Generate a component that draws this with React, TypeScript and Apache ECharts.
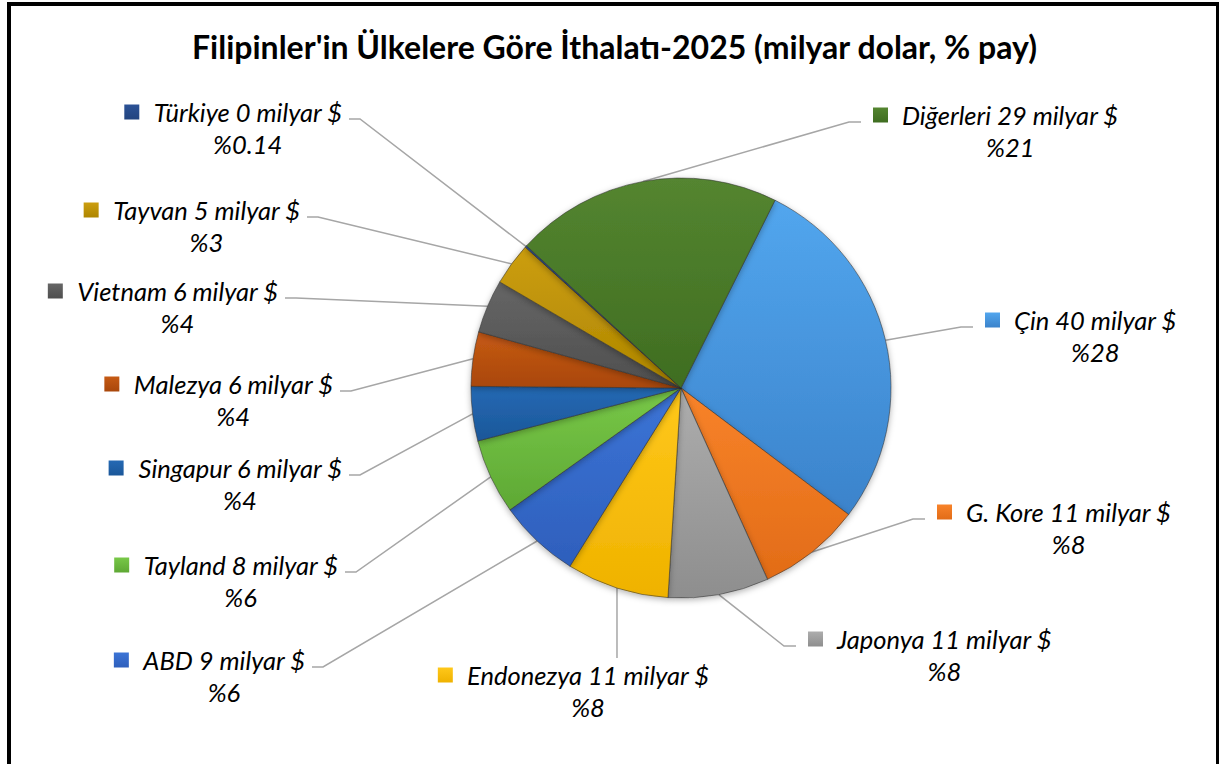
import React, { useEffect, useRef } from "react";
import * as echarts from "echarts";

const titleText = "Filipinler'in Ülkelere Göre İthalatı-2025 (milyar dolar, % pay)";
const names = ["Çin", "G. Kore", "Japonya", "Endonezya", "ABD", "Tayland", "Singapur", "Malezya", "Vietnam", "Tayvan", "Türkiye", "Diğerleri"];
const values = [40.0, 11.4, 11.1, 11.3, 9.0, 8.3, 6.0, 6.0, 5.9, 4.7, 0.2, 29.45];
const unit = "milyar $";

const colorTop = ["#52a6ee", "#f8832a", "#adadad", "#ffc81a", "#3c74d6", "#78c848", "#2569b4", "#c65a14", "#666666", "#cc9e10", "#2c5296", "#548530"];
const colorBottom = ["#3b83cb", "#e26c17", "#8e8e8e", "#efb200", "#2e5fbc", "#5ea834", "#1b5799", "#a9470b", "#4e4e4e", "#ae8600", "#22447f", "#3f6d21"];

// label anchor layout (page pixels): side, x, y of first text line
const labelAnchors = [
  { side: "r", x: 985, y: 320 },
  { side: "r", x: 937, y: 512 },
  { side: "r", x: 808, y: 639 },
  { side: "b", x: 573.5, y: 675 },
  { side: "l", x: 305, y: 660 },
  { side: "l", x: 338, y: 565 },
  { side: "l", x: 342, y: 468 },
  { side: "l", x: 333, y: 384 },
  { side: "l", x: 278, y: 291 },
  { side: "l", x: 300, y: 210 },
  { side: "l", x: 342, y: 112 },
  { side: "r", x: 873, y: 115 },
];

const CX = 681;
const CY = 388;
const R = 210;
const START = 63.4;
const FONT = "Lato";
const LABEL_SIZE = 25.5;

export default function App() {
  const ref = useRef<HTMLDivElement>(null);

  useEffect(() => {
    if (!ref.current) return;
    const chart = echarts.init(ref.current, null, { renderer: "svg" });
    const total = values.reduce((a, b) => a + b, 0);
    const pctText = (v: number) => {
      const p = (v / total) * 100;
      return p < 1 ? p.toFixed(2) : String(Math.round(p));
    };
    const midAngles: number[] = [];
    let acc = 0;
    values.forEach((v) => {
      const a0 = START - (acc / total) * 360;
      acc += v;
      const a1 = START - (acc / total) * 360;
      midAngles.push(((a0 + a1) / 2) * (Math.PI / 180));
    });

    const rich: any = {
      t: { fontFamily: FONT, fontStyle: "italic", fontSize: LABEL_SIZE, color: "#000", lineHeight: 32, padding: [0, 0, 0, 14] },
      p: { fontFamily: FONT, fontStyle: "italic", fontSize: LABEL_SIZE, color: "#000", lineHeight: 32, align: "center", padding: [0, 0, 0, 29] },
    };
    names.forEach((_, i) => {
      rich["m" + i] = {
        width: 15,
        height: 15,
        verticalAlign: "middle",
        backgroundColor: {
          type: "linear", x: 0, y: 0, x2: 0, y2: 1,
          colorStops: [
            { offset: 0, color: colorTop[i] },
            { offset: 1, color: colorBottom[i] },
          ],
        },
      };
    });

    const data = names.map((n, i) => ({
      name: n,
      value: values[i],
      itemStyle: {
        color: {
          type: "linear", x: 0, y: 0, x2: 0, y2: 1,
          colorStops: [
            { offset: 0, color: colorTop[i] },
            { offset: 1, color: colorBottom[i] },
          ],
        },
      },
    }));

    chart.setOption({
      animation: false,
      backgroundColor: "transparent",
      graphic: [
        {
          type: "text",
          x: 614.5,
          y: 46,
          style: {
            text: titleText,
            fontFamily: FONT,
            fontWeight: "bold",
            fontSize: 32,
            fill: "#000",
            align: "center",
            verticalAlign: "middle",
          },
        },
      ],
      series: [
        {
          type: "pie",
          center: [CX, CY],
          radius: [0, R],
          startAngle: START,
          clockwise: true,
          avoidLabelOverlap: false,
          data,
          itemStyle: {
            borderColor: "rgba(50,50,50,0.55)",
            borderWidth: 1,
            shadowBlur: 6,
            shadowColor: "rgba(0,0,0,0.3)",
            shadowOffsetY: 2,
          },
          label: {
            show: true,
            position: "outside",
            formatter: (p: any) => {
              const i = p.dataIndex;
              return `{m${i}|}{t|${names[i]} ${Math.round(values[i])} ${unit}}\n{p|%${pctText(values[i])}}`;
            },
            rich,
          },
          labelLine: {
            show: true,
            length: 10,
            length2: 10,
            lineStyle: { color: "#a6a6a6", width: 1.5 },
          },
          emphasis: { disabled: true },
          labelLayout: (params: any) => {
            const i = params.dataIndex;
            const a = labelAnchors[i];
            const ang = midAngles[i];
            const edge = [CX + R * Math.cos(ang), CY - R * Math.sin(ang)];
            if (a.side === "l") {
              return {
                x: a.x, y: a.y - 16, align: "right", verticalAlign: "top",
                labelLinePoints: [edge, [a.x + 18, a.y + 7], [a.x + 7, a.y + 7]],
              };
            }
            if (a.side === "r") {
              return {
                x: a.x, y: a.y - 16, align: "left", verticalAlign: "top",
                labelLinePoints: [edge, [a.x - 24, a.y + 7], [a.x - 12, a.y + 7]],
              };
            }
            return {
              x: a.x, y: a.y - 16, align: "center", verticalAlign: "top",
              labelLinePoints: [edge, [edge[0], a.y - 17], [edge[0], a.y - 17]],
            };
          },
        },
      ],
    });
    return () => chart.dispose();
  }, []);

  return (
    <div style={{ position: "fixed", left: 0, top: 0, width: 1219, height: 764, overflow: "hidden", background: "#fff" }}>
      <div
        style={{
          position: "absolute", left: 7, top: 2, width: 1213, height: 900,
          border: "4px solid #000", boxSizing: "border-box",
        }}
      />
      <div ref={ref} style={{ position: "absolute", left: 0, top: 0, width: 1219, height: 764 }} />
    </div>
  );
}
